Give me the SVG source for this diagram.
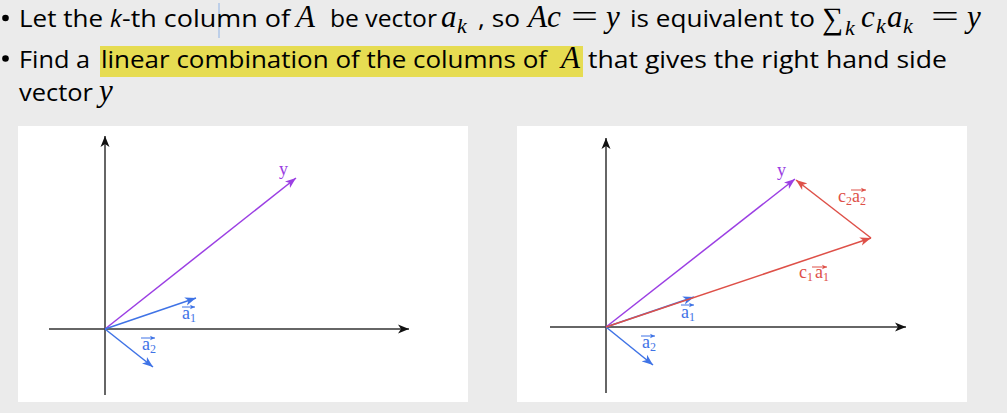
<svg xmlns="http://www.w3.org/2000/svg" width="1007" height="413" viewBox="0 0 1007 413">
<style>
.t{font-family:"Open Sans",Lato,"Liberation Sans",sans-serif;font-size:24px;fill:#000}
.ti{font-family:"Open Sans",Lato,"Liberation Sans",sans-serif;font-size:24px;font-style:italic;fill:#000}
.m{font-family:"Liberation Serif","DejaVu Serif",serif;font-size:31px;font-style:italic;fill:#000}
.mu{font-family:"Liberation Serif","DejaVu Serif",serif;font-size:31px;fill:#000}
.ms{font-family:"Liberation Serif","DejaVu Serif",serif;font-size:22px;font-style:italic;fill:#000}
.lb{font-family:"Liberation Serif","Times New Roman",serif;font-size:18px}
.sb{font-size:12px}
.ax{stroke:#333;stroke-width:1.5;fill:none}
.vp{stroke:#9b3fe3;stroke-width:1.5;fill:none}
.vb{stroke:#3f73e6;stroke-width:1.5;fill:none}
.vr{stroke:#de5048;stroke-width:1.5;fill:none}
.ob{stroke:#3f73e6;stroke-width:1;fill:none}
.or{stroke:#de5048;stroke-width:1;fill:none}
</style>
<defs>
<marker id="mk" markerUnits="userSpaceOnUse" markerWidth="12" markerHeight="10" refX="11" refY="5" orient="auto"><path d="M0,0.5 L11,5 L0,9.5 L3,5 z" fill="#111"/></marker>
<marker id="mp" markerUnits="userSpaceOnUse" markerWidth="12" markerHeight="10" refX="11" refY="5" orient="auto"><path d="M0,0.8 L11,5 L0,9.2 L3,5 z" fill="#9b3fe3"/></marker>
<marker id="mb" markerUnits="userSpaceOnUse" markerWidth="12" markerHeight="10" refX="11" refY="5" orient="auto"><path d="M0,0.8 L11,5 L0,9.2 L3,5 z" fill="#3f73e6"/></marker>
<marker id="mr" markerUnits="userSpaceOnUse" markerWidth="12" markerHeight="10" refX="11" refY="5" orient="auto"><path d="M0,0.8 L11,5 L0,9.2 L3,5 z" fill="#de5048"/></marker>
<marker id="sb" markerUnits="userSpaceOnUse" markerWidth="6" markerHeight="6" refX="5" refY="3" orient="auto"><path d="M0,0.8 L5,3 L0,5.2 L1.2,3 z" fill="#3f73e6"/></marker>
<marker id="sr" markerUnits="userSpaceOnUse" markerWidth="6" markerHeight="6" refX="5" refY="3" orient="auto"><path d="M0,0.8 L5,3 L0,5.2 L1.2,3 z" fill="#de5048"/></marker>
</defs>
<rect x="0" y="0" width="1007" height="413" fill="#ebebeb"/>

<g id="bullets">
<circle cx="5.5" cy="18" r="3.3" fill="#000"/>
<circle cx="5.5" cy="58.5" r="3.3" fill="#000"/>
</g>
<line x1="219" y1="3" x2="219" y2="38" stroke="#8fb3e6" stroke-width="1"/>

<g id="line1">
<text class="t" x="19" y="27" textLength="84" lengthAdjust="spacingAndGlyphs">Let the</text>
<text class="ti" x="110" y="27">k</text>
<text class="t" x="122" y="27" textLength="168" lengthAdjust="spacingAndGlyphs">-th column of</text>
<text class="m" x="296" y="27">A</text>
<text class="t" x="330" y="27" textLength="107" lengthAdjust="spacingAndGlyphs">be vector</text>
<text class="m" x="441" y="27">a</text><text class="ms" x="457" y="33">k</text>
<text class="t" x="478" y="27" textLength="42" lengthAdjust="spacingAndGlyphs">, so</text>
<text class="m" x="528" y="27" textLength="33" lengthAdjust="spacingAndGlyphs">Ac</text>
<text class="mu" transform="translate(571,27) scale(1.55,1)" x="0" y="0">=</text>
<text class="m" x="606" y="27">y</text>
<text class="t" x="630" y="27" textLength="185" lengthAdjust="spacingAndGlyphs">is equivalent to</text>
<text class="mu" x="822" y="29" font-size="34" textLength="21" lengthAdjust="spacingAndGlyphs">∑</text><text class="ms" x="845" y="35">k</text>
<text class="m" x="861" y="27">c</text><text class="ms" x="876" y="33">k</text>
<text class="m" x="887" y="27">a</text><text class="ms" x="903" y="33">k</text>
<text class="mu" transform="translate(931,27) scale(1.6,1)" x="0" y="0">=</text>
<text class="m" x="967" y="27">y</text>
</g>

<g id="line2">
<rect x="100" y="46" width="483" height="31" fill="#e6dc52"/>
<text class="t" x="19" y="68" textLength="71" lengthAdjust="spacingAndGlyphs">Find a</text>
<text class="t" x="101" y="68" textLength="446" lengthAdjust="spacingAndGlyphs">linear combination of the columns of</text>
<text class="m" x="561" y="68">A</text>
<text class="t" x="588" y="68" textLength="359" lengthAdjust="spacingAndGlyphs">that gives the right hand side</text>
<text class="t" x="19" y="101" textLength="74" lengthAdjust="spacingAndGlyphs">vector</text>
<text class="m" x="99" y="101">y</text>
</g>

<g id="panel-left">
<rect x="18" y="126" width="450" height="276" fill="#ffffff"/>
</g>
<g id="panel-right">
<rect x="517" y="126" width="450" height="276" fill="#ffffff"/>
</g>

<g id="connectors">
<line class="ax" x1="105" y1="395" x2="105" y2="136" marker-end="url(#mk)"/>
<line class="ax" x1="49" y1="329" x2="409" y2="329" marker-end="url(#mk)"/>
<line class="vp" x1="105" y1="329" x2="296" y2="178" marker-end="url(#mp)"/>
<line class="vb" x1="105" y1="329" x2="196" y2="298" marker-end="url(#mb)"/>
<line class="vb" x1="105" y1="329" x2="153" y2="367" marker-end="url(#mb)"/>

<line class="ax" x1="606" y1="393" x2="606" y2="138" marker-end="url(#mk)" stroke="#555" stroke-width="2"/>
<line class="ax" x1="550" y1="327" x2="906" y2="327" marker-end="url(#mk)" stroke="#111"/>
<line class="vb" x1="606" y1="327" x2="694" y2="297" marker-end="url(#mb)"/>
<line class="vb" x1="606" y1="327" x2="653" y2="365" marker-end="url(#mb)"/>
<line class="vp" x1="606" y1="327" x2="795" y2="179" marker-end="url(#mp)"/>
<line class="vr" x1="606" y1="327" x2="871" y2="238" marker-end="url(#mr)"/>
<line class="vr" x1="871" y1="238" x2="796" y2="180" marker-end="url(#mr)"/>
</g>

<g id="label-y-left"><text class="lb" x="279" y="175" fill="#9b3fe3">y</text></g>
<g id="label-a1-left">
<text class="lb" x="182" y="319" fill="#3f73e6">a<tspan class="sb" dy="3">1</tspan></text>
<line class="ob" x1="182" y1="307" x2="195" y2="307" marker-end="url(#sb)"/>
</g>
<g id="label-a2-left">
<text class="lb" x="142" y="350" fill="#3f73e6">a<tspan class="sb" dy="3">2</tspan></text>
<line class="ob" x1="141" y1="338" x2="155" y2="338" marker-end="url(#sb)"/>
</g>

<g id="label-y-right"><text class="lb" x="777" y="176" fill="#9b3fe3">y</text></g>
<g id="label-a1-right">
<text class="lb" x="681" y="318" fill="#3f73e6">a<tspan class="sb" dy="3">1</tspan></text>
<line class="ob" x1="681" y1="305" x2="694" y2="305" marker-end="url(#sb)"/>
</g>
<g id="label-a2-right">
<text class="lb" x="642" y="348" fill="#3f73e6">a<tspan class="sb" dy="3">2</tspan></text>
<line class="ob" x1="641" y1="336" x2="655" y2="336" marker-end="url(#sb)"/>
</g>
<g id="label-c1a1">
<text class="lb" x="799" y="278" fill="#de5048">c<tspan class="sb" dy="3">1</tspan><tspan dy="-3" dx="2">a</tspan><tspan class="sb" dy="3">1</tspan></text>
<line class="or" x1="812" y1="267" x2="827" y2="267" marker-end="url(#sr)"/>
</g>
<g id="label-c2a2">
<text class="lb" x="838" y="202" fill="#de5048">c<tspan class="sb" dy="3">2</tspan><tspan dy="-3">a</tspan><tspan class="sb" dy="3">2</tspan></text>
<line class="or" x1="851" y1="190" x2="866" y2="190" marker-end="url(#sr)"/>
</g>
</svg>
